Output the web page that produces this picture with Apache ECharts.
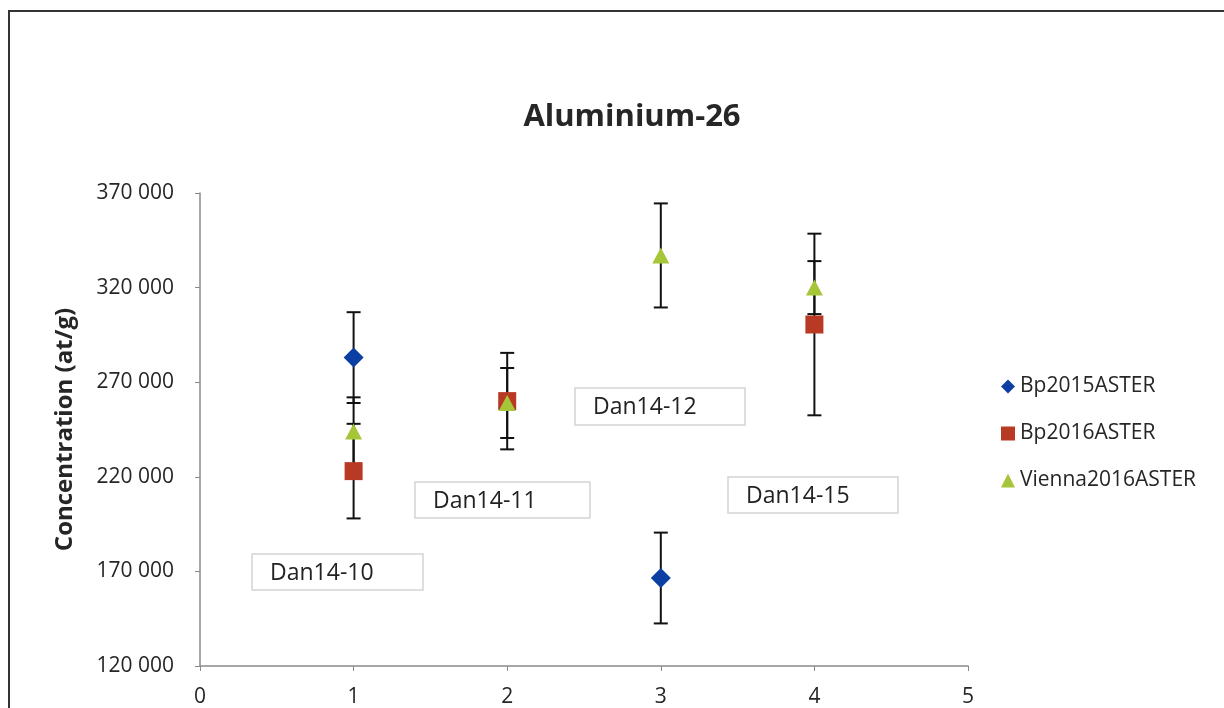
<!DOCTYPE html>
<html>
<head>
<meta charset="utf-8">
<script src="https://cdn.jsdelivr.net/npm/echarts@6/dist/echarts.min.js"></script>
<style>html,body{margin:0;padding:0;background:#fff}#c{width:1224px;height:708px}</style>
</head>
<body>
<div id="c"></div>
<script>
const seriesNames = ['Bp2015ASTER', 'Bp2016ASTER', 'Vienna2016ASTER'];
const bp2015X = [1, 3];
const bp2015Y = [283000, 166500];
const bp2015Err = [24000, 24000];
const bp2016X = [1, 2, 4];
const bp2016Y = [223000, 260000, 300500];
const bp2016Err = [25000, 25500, 48000];
const viennaX = [1, 2, 3, 4];
const viennaY = [244000, 259000, 337000, 320000];
const viennaErr = [18000, 18500, 27500, 14000];
const sampleLabels = ['Dan14-10', 'Dan14-11', 'Dan14-12', 'Dan14-15'];
const yTicks = [120000, 170000, 220000, 270000, 320000, 370000];
const xTicks = [0, 1, 2, 3, 4, 5];

const colors = ['#0c3fa3', '#b83a24', '#a6c63a'];
const symbols = ['diamond', 'rect', 'triangle'];
const symbolSizes = [[20, 20], [18, 18], [17, 16]];

const FONT = '"Open Sans", "Noto Sans", sans-serif';

function pts(xs, ys) { return xs.map((x, i) => [x, ys[i]]); }
function errs(xs, ys, es) { return xs.map((x, i) => [x, ys[i] - es[i], ys[i] + es[i]]); }

const allSets = [
  [bp2015X, bp2015Y, bp2015Err],
  [bp2016X, bp2016Y, bp2016Err],
  [viennaX, viennaY, viennaErr]
];

const series = [];
allSets.forEach((s, k) => {
  series.push({
    type: 'custom',
    name: seriesNames[k] + '_err',
    data: errs(s[0], s[1], s[2]),
    z: 1,
    silent: true,
    renderItem: function (params, api) {
      const x = api.value(0);
      const lo = api.coord([x, api.value(1)]);
      const hi = api.coord([x, api.value(2)]);
      const cap = 7;
      const st = { stroke: '#111', lineWidth: 2 };
      return {
        type: 'group',
        children: [
          { type: 'line', shape: { x1: lo[0], y1: lo[1], x2: hi[0], y2: hi[1] }, style: st },
          { type: 'line', shape: { x1: lo[0] - cap, y1: lo[1], x2: lo[0] + cap, y2: lo[1] }, style: st },
          { type: 'line', shape: { x1: hi[0] - cap, y1: hi[1], x2: hi[0] + cap, y2: hi[1] }, style: st }
        ]
      };
    }
  });
});
allSets.forEach((s, k) => {
  series.push({
    type: 'scatter',
    name: seriesNames[k],
    data: pts(s[0], s[1]),
    symbol: symbols[k],
    symbolSize: symbolSizes[k],
    itemStyle: { color: colors[k], opacity: 1 },
    z: 5
  });
});

const boxes = [
  [252, 554, 171, 36],
  [415, 482, 175, 36],
  [575, 388, 170, 37],
  [728, 477, 170, 36]
];
const graphics = [
  { type: 'rect', shape: { x: 9, y: 11, width: 1240, height: 720 }, style: { fill: 'none', stroke: '#333', lineWidth: 2 }, z: 0 }
];
sampleLabels.forEach((t, i) => {
  const b = boxes[i];
  graphics.push({
    type: 'group', z: 10,
    children: [
      { type: 'rect', shape: { x: b[0], y: b[1], width: b[2], height: b[3] }, style: { fill: '#fff', stroke: '#d4d4d4', lineWidth: 1.5 } },
      { type: 'text', x: b[0] + 18, y: b[1] + b[3] / 2 + 1, style: { text: t, fill: '#222', font: '23px ' + FONT, verticalAlign: 'middle', textVerticalAlign: 'middle' } }
    ]
  });
});

const chart = echarts.init(document.getElementById('c'));
chart.setOption({
  animation: false,
  backgroundColor: '#fff',
  title: {
    text: 'Aluminium-26',
    left: 627, top: 97, textAlign: 'center',
    textStyle: { fontFamily: FONT, fontSize: 31, fontWeight: 'bold', color: '#262626' }
  },
  grid: { left: 200, right: 256, top: 193, bottom: 42, containLabel: false },
  legend: {
    orient: 'vertical',
    left: 996, top: 371,
    itemGap: 26,
    itemWidth: 14, itemHeight: 14,
    data: seriesNames.map((n, k) => ({ name: n, icon: symbols[k], itemStyle: { color: colors[k] } })),
    textStyle: { fontFamily: FONT, fontSize: 21, color: '#262626' }
  },
  xAxis: {
    type: 'value', min: xTicks[0], max: xTicks[xTicks.length - 1], interval: 1,
    splitLine: { show: false },
    axisLine: { lineStyle: { color: '#8a8a8a', width: 1.5 } },
    axisTick: { show: true, length: 5, lineStyle: { color: '#8a8a8a' } },
    axisLabel: { fontFamily: FONT, fontSize: 21, color: '#262626', margin: 21 }
  },
  yAxis: {
    type: 'value', min: yTicks[0], max: yTicks[yTicks.length - 1], interval: 50000,
    name: 'Concentration (at/g)', nameLocation: 'middle', nameGap: 123, nameRotate: 90,
    nameTextStyle: { fontFamily: FONT, fontSize: 24, fontWeight: 'bold', color: '#262626' },
    splitLine: { show: false },
    axisLine: { show: true, lineStyle: { color: '#8a8a8a', width: 1.5 } },
    axisTick: { show: true, length: 5, lineStyle: { color: '#8a8a8a' } },
    axisLabel: {
      fontFamily: FONT, fontSize: 21, color: '#262626', margin: 26,
      formatter: v => String(v).replace(/\B(?=(\d{3})+(?!\d))/g, ' ')
    }
  },
  graphic: graphics,
  series: series
});
</script>
</body>
</html>
